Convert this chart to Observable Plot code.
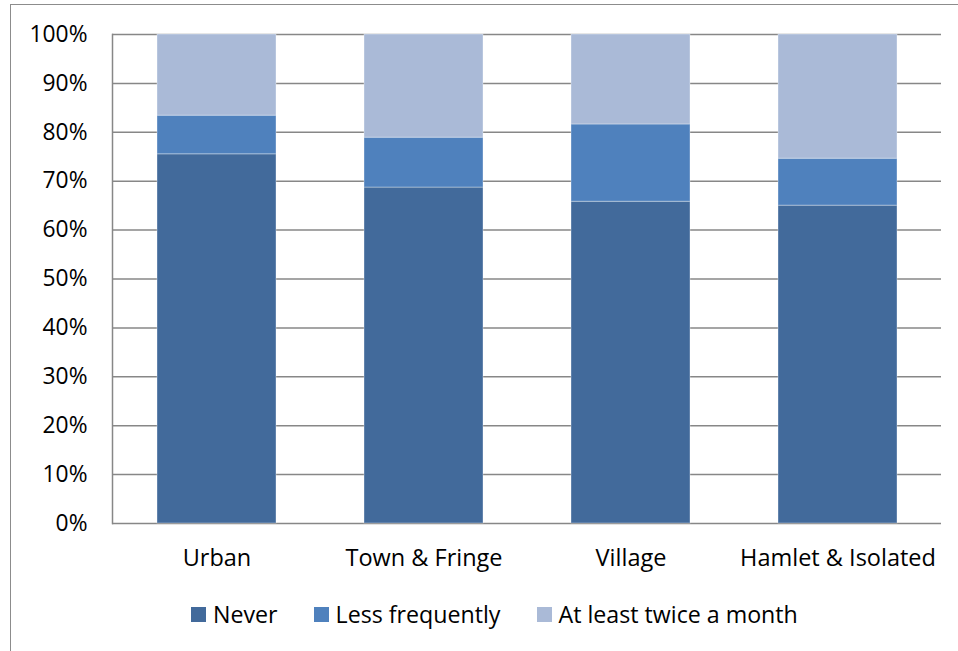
<!DOCTYPE html>
<html>
<head>
<meta charset="utf-8">
<script src="https://cdn.jsdelivr.net/npm/d3@7"></script>
<script src="https://cdn.jsdelivr.net/npm/@observablehq/plot@0.6"></script>
<style>
  html, body { margin: 0; padding: 0; background: #fff; width: 958px; height: 651px; overflow: hidden; }
  #frame { position: absolute; left: 10px; top: 4px; width: 960px; height: 660px; border-left: 1.5px solid #8c8c8c; border-top: 1.5px solid #8c8c8c; }
  #chart { position: absolute; left: 0; top: 0; }
  #legend { position: absolute; left: 0; top: 600px; width: 958px; display: flex; font-family: "Open Sans", sans-serif; font-size: 23.2px; color: #000; padding-left: 191px; box-sizing: border-box; line-height: 28px; }
  .item { display: flex; align-items: center; margin-right: 36px; }
  .sw { width: 15px; height: 15px; margin-right: 7px; }
</style>
</head>
<body>
<div id="frame"></div>
<div id="chart"></div>
<div id="legend"></div>
<script>
const categories = ["Urban", "Town & Fringe", "Village", "Hamlet & Isolated"];
const seriesNames = ["Never", "Less frequently", "At least twice a month"];
const never = [75.5, 68.7, 65.8, 65.0];
const lessFrequently = [7.9, 10.2, 15.8, 9.6];
const twiceAMonth = [16.6, 21.1, 18.4, 25.4];
const colors = ["#426A9B", "#4F81BD", "#AABAD7"];
const yTicks = [0, 10, 20, 30, 40, 50, 60, 70, 80, 90, 100];

const seriesValues = [never, lessFrequently, twiceAMonth];
const data = [];
seriesNames.forEach((s, i) => categories.forEach((c, j) => data.push({category: c, series: s, value: seriesValues[i][j]})));

const chart = Plot.plot({
  width: 958,
  height: 585,
  marginLeft: 112,
  marginRight: 17,
  marginTop: 34,
  marginBottom: 62,
  style: {fontFamily: "'Open Sans', sans-serif", fontSize: "22.8px", color: "#000", background: "transparent"},
  x: {domain: categories, paddingInner: 0.426, paddingOuter: 0.213, label: null, tickSize: 0, tickPadding: 26},
  y: {domain: [0, 100], ticks: yTicks, tickFormat: d => d + "%", label: null, tickSize: 0, tickPadding: 25},
  color: {domain: seriesNames, range: colors},
  marks: [
    Plot.ruleY(yTicks, {stroke: "#878787", strokeWidth: 1.5}),
    Plot.frame({anchor: "left", stroke: "#878787", strokeWidth: 1.5}),
    Plot.barY(data, {x: "category", y: "value", fill: "series", z: "series", stroke: "#ffffff", strokeOpacity: 0.35, strokeWidth: 1}),
    Plot.axisX({tickSize: 0, tickPadding: 26, fontSize: "23.5px", label: null})
  ]
});
document.getElementById("chart").appendChild(chart);

const legend = document.getElementById("legend");
seriesNames.forEach((s, i) => {
  const item = document.createElement("div");
  item.className = "item";
  const sw = document.createElement("span");
  sw.className = "sw";
  sw.style.background = colors[i];
  const t = document.createElement("span");
  t.textContent = s;
  item.appendChild(sw);
  item.appendChild(t);
  legend.appendChild(item);
});
</script>
</body>
</html>
